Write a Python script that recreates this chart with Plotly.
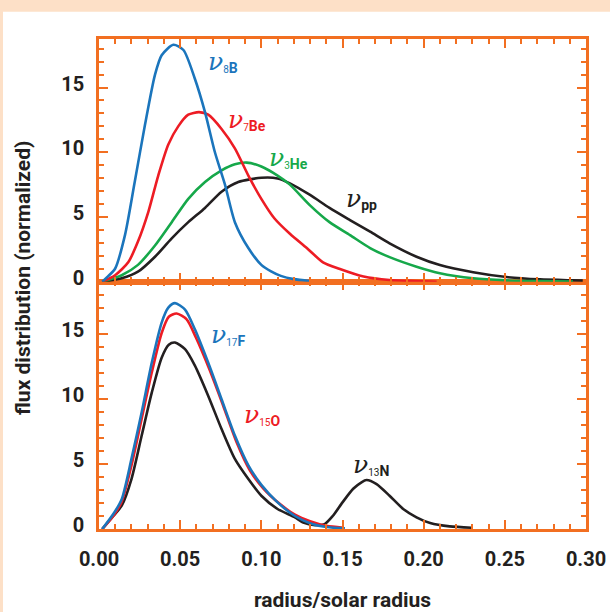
import plotly.graph_objects as go

# ---- flux distributions vs. radius (top panel: pp chain) ----
x_8B = [0.002, 0.005, 0.0099, 0.016, 0.022, 0.0283, 0.0345, 0.0386, 0.0458, 0.052, 0.059,
        0.0653, 0.0714, 0.0776, 0.0837, 0.092, 0.100, 0.106, 0.112, 0.120, 0.130]
y_8B = [0, 0.35, 1.0, 3.6, 7.7, 12.1, 16.0, 17.5, 18.3, 17.9, 15.7,
        13.1, 10.0, 7.5, 4.6, 2.6, 1.3, 0.8, 0.45, 0.2, 0.05]

x_7Be = [0.002, 0.0099, 0.018, 0.024, 0.0304, 0.0365, 0.0427, 0.0488, 0.055, 0.0616, 0.0673,
         0.0755, 0.0837, 0.092, 0.100, 0.108, 0.1176, 0.128, 0.138, 0.148, 0.163, 0.179, 0.195, 0.208]
y_7Be = [0, 0.5, 1.5, 3.1, 5.4, 8.2, 10.6, 12.0, 12.9, 13.1, 12.9,
         11.8, 10.3, 8.2, 6.4, 4.9, 3.7, 2.6, 1.5, 1.0, 0.4, 0.13, 0.05, 0.0]

x_3He = [0.002, 0.014, 0.024, 0.0345, 0.0448, 0.055, 0.0653, 0.0755, 0.0837, 0.091, 0.100, 0.110,
         0.1176, 0.130, 0.142, 0.1546, 0.167, 0.179, 0.1956, 0.21, 0.2305, 0.251, 0.27, 0.292]
y_3He = [0, 0.5, 1.3, 2.8, 4.6, 6.4, 7.7, 8.6, 9.07, 9.2, 8.9, 8.2,
         7.5, 5.9, 4.6, 3.6, 2.6, 1.9, 1.16, 0.65, 0.26, 0.1, 0.05, 0.02]

x_pp = [0.002, 0.014, 0.024, 0.0345, 0.0448, 0.055, 0.0653, 0.0755, 0.0858, 0.100, 0.110, 0.1176,
        0.13, 0.142, 0.1546, 0.167, 0.179, 0.1956, 0.21, 0.2305, 0.251, 0.2716, 0.292, 0.298]
y_pp = [0, 0.26, 0.77, 1.93, 3.35, 4.6, 5.7, 6.95, 7.7, 8.03, 7.98, 7.6,
        6.7, 5.7, 4.76, 3.86, 2.96, 1.93, 1.29, 0.73, 0.36, 0.18, 0.1, 0.08]

# ---- bottom panel: CNO cycle ----
x_17F = [0.002, 0.0088, 0.014, 0.020, 0.0263, 0.0325, 0.0386, 0.0427, 0.0468, 0.053, 0.059,
         0.0673, 0.0755, 0.0837, 0.092, 0.100, 0.110, 0.1207, 0.130, 0.140, 0.1515]
y_17F = [0, 1.15, 2.3, 5.4, 9.0, 12.8, 15.9, 17.05, 17.4, 16.9, 15.4,
         12.8, 10.0, 7.2, 4.9, 3.4, 2.05, 1.0, 0.45, 0.15, 0.05]

x_15O = [0.002, 0.0088, 0.014, 0.020, 0.0263, 0.0325, 0.0386, 0.043, 0.0478, 0.054, 0.0597,
         0.068, 0.0765, 0.0847, 0.093, 0.1014, 0.1117, 0.1207, 0.130, 0.140, 0.1505]
y_15O = [0, 1.0, 2.1, 4.9, 8.5, 12.05, 15.1, 16.35, 16.6, 16.15, 14.75,
         12.3, 9.5, 6.7, 4.5, 3.1, 1.9, 1.1, 0.6, 0.25, 0.1]

x_13N = [0.002, 0.0088, 0.014, 0.020, 0.0263, 0.0325, 0.0386, 0.043, 0.0468, 0.053, 0.059,
         0.0673, 0.0755, 0.0837, 0.092, 0.100, 0.110, 0.1207, 0.1258, 0.133, 0.139, 0.144,
         0.150, 0.1566, 0.1617, 0.1648, 0.171, 0.179, 0.1874, 0.1956, 0.204, 0.216, 0.2295]
y_13N = [0, 1.0, 1.8, 3.85, 7.2, 10.5, 13.2, 14.2, 14.36, 13.85, 12.6,
         10.25, 7.7, 5.4, 3.85, 2.56, 1.54, 0.9, 0.5, 0.3, 0.38, 1.0,
         2.05, 3.1, 3.6, 3.77, 3.46, 2.56, 1.54, 0.9, 0.46, 0.2, 0.1]

x_ticks = [0.0, 0.05, 0.10, 0.15, 0.20, 0.25, 0.30]
y_ticks = [0, 5, 10, 15]

BLUE = "#1b75bc"
RED = "#ed1c24"
GREEN = "#16a84a"
BLACK = "#231f20"
ORANGE = "#f26f21"
PEACH = "#fde0c7"

fig = go.Figure()

def add_curve(xs, ys, color, yaxis, xaxis):
    fig.add_trace(go.Scatter(x=xs, y=ys, mode="lines", xaxis=xaxis, yaxis=yaxis,
                             line=dict(color=color, width=2.6, shape="spline", smoothing=0.7),
                             hoverinfo="skip", showlegend=False))

add_curve(x_pp, y_pp, BLACK, "y2", "x2")
add_curve(x_3He, y_3He, GREEN, "y2", "x2")
add_curve(x_7Be, y_7Be, RED, "y2", "x2")
add_curve(x_8B, y_8B, BLUE, "y2", "x2")

add_curve(x_13N, y_13N, BLACK, "y", "x")
add_curve(x_15O, y_15O, RED, "y", "x")
add_curve(x_17F, y_17F, BLUE, "y", "x")


def nu(iso, el):
    return ("<span style='font-family:DejaVu Serif;font-size:25px'><i>ν</i></span>"
            f"<sub><span style='font-size:10px'>{iso}</span>"
            f"<span style='font-size:14px'><b>{el}</b></span></sub>")


labels = [
    (0.0660, 17.0, "8", "B", BLUE, "x2", "y2"),
    (0.0785, 12.5, "7", "Be", RED, "x2", "y2"),
    (0.1035, 9.6, "3", "He", GREEN, "x2", "y2"),
    (0.1510, 6.45, "", "pp", BLACK, "x2", "y2"),
    (0.0675, 15.0, "17", "F", BLUE, "x", "y"),
    (0.0880, 8.85, "15", "O", RED, "x", "y"),
    (0.1555, 5.0, "13", "N", BLACK, "x", "y"),
]
for lx, ly, iso, el, col, xr, yr in labels:
    fig.add_annotation(x=lx, y=ly, xref=xr, yref=yr, text=nu(iso, el), showarrow=False,
                       xanchor="left", yanchor="middle",
                       font=dict(family="Roboto", size=16, color=col))

axis_common = dict(
    showline=True, linecolor=ORANGE, linewidth=2.5, mirror="ticks",
    ticks="inside", ticklen=9, tickwidth=2, tickcolor=ORANGE,
    showgrid=False, zeroline=False, automargin=False,
    tickfont=dict(family="Roboto", size=20, color=BLACK, weight="bold"),
)
minor_x = dict(dtick=0.01, ticks="inside", ticklen=5, tickwidth=2, tickcolor=ORANGE, showgrid=False)
minor_y = dict(dtick=1, ticks="inside", ticklen=5, tickwidth=2, tickcolor=ORANGE, showgrid=False)

split = 0.5047
title_font = dict(family="Roboto", size=21, color=BLACK, weight="bold")

fig.update_layout(
    width=610, height=612,
    margin=dict(l=99, r=24, t=39, b=83, autoexpand=False),
    paper_bgcolor=PEACH, plot_bgcolor="white",
    xaxis=dict(axis_common, domain=[0, 1], anchor="y", range=[0, 0.30],
               tickvals=x_ticks, ticktext=[f"{v:.2f}" for v in x_ticks],
               minor=minor_x, ticklabelstandoff=10,
               title=dict(text="radius/solar radius", standoff=31, font=title_font)),
    xaxis2=dict(axis_common, domain=[0, 1], anchor="y2", range=[0, 0.30], matches="x",
                tickvals=x_ticks, showticklabels=False, minor=minor_x),
    yaxis=dict(axis_common, domain=[0, split], anchor="x", range=[0, 19.05],
               tickvals=y_ticks, minor=minor_y, ticklabelstandoff=8, ticklabelshift=-4),
    yaxis2=dict(axis_common, domain=[split, 1], anchor="x2", range=[0, 18.75],
                tickvals=y_ticks, minor=minor_y, ticklabelstandoff=8, ticklabelshift=-4),
)

# white page area inside the peach border strips
fig.add_shape(type="rect", xref="paper", yref="paper",
              x0=(3 - 99) / 487, x1=1.2, y0=-0.3, y1=(529 - 11.7) / 490,
              fillcolor="white", line_width=0, layer="below")

# shared vertical axis title
fig.add_annotation(xref="paper", yref="paper", x=(23 - 99) / 487, y=(529 - 278) / 490,
                   text="flux distribution (normalized)", textangle=-90, showarrow=False,
                   xanchor="center", yanchor="middle", font=title_font)

fig.write_html("out.html")
